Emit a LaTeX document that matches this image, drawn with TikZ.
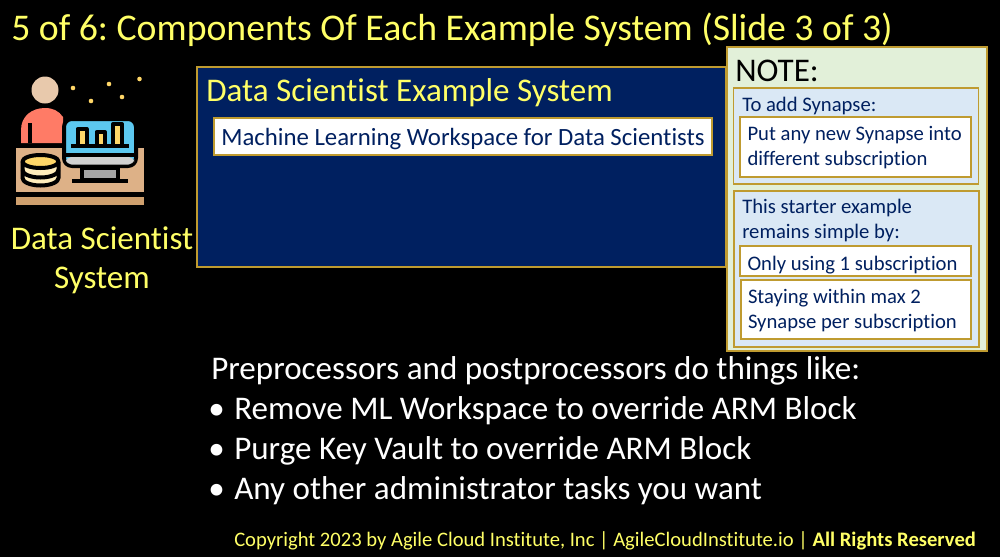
\documentclass[tikz,border=0pt]{standalone}
\usepackage{fontspec}
\setmainfont{Carlito}[Ligatures=CommonOff]
\usepackage{xcolor}
\frenchspacing
\definecolor{slideyellow}{HTML}{FFFF66}
\definecolor{navy}{HTML}{002060}
\definecolor{gold}{HTML}{BF9B30}
\definecolor{notegreen}{HTML}{E2F0D9}
\definecolor{noteblue}{HTML}{DAE8F5}
\definecolor{deskbrown}{HTML}{DDB187}
\definecolor{stripbrown}{HTML}{CFA06E}
\definecolor{shirt}{HTML}{FF7B66}
\definecolor{skin}{HTML}{E8C9AC}
\definecolor{screen}{HTML}{5CC8F0}
\definecolor{barfill}{HTML}{FFD768}
\tikzset{
  panel/.style={draw=gold,line width=0.85pt,inner sep=0pt},
  whitebox/.style={panel,fill=white,text=navy,font=\fontsize{15.5}{18.7}\selectfont,align=flush left},
  slidetext/.style={anchor=base west,inner sep=0pt,text=white,font=\fontsize{24.8}{24.8}\selectfont},
  yellowtext/.style={inner sep=0pt,text=slideyellow},
  headtext/.style={anchor=base west,inner sep=0pt,text=navy,font=\fontsize{15.5}{18.7}\selectfont,align=flush left},
  outline/.style={draw=black,line width=3pt,line join=round}
}
\begin{document}
\begin{tikzpicture}[x=0.75pt,y=-0.75pt]
  \useasboundingbox (0,0) rectangle (1000,557);
  \fill[black] (0,0) rectangle (1000,557);

  % title
  \node (title) at (11,40) [yellowtext,anchor=base west,font=\fontsize{28.3}{28.3}\selectfont] {5 of 6: Components Of Each Example System (Slide 3 of 3)};

  % icon
  \fill[deskbrown] (16,148) rectangle (144,192);
  \fill[stripbrown] (16,196.5) rectangle (144,205);
  \fill[shirt] (21,143) -- (21,130) .. controls (21,116) and (32,108) .. (45,108) .. controls (53,108) and (59,111) .. (63,117) -- (63,143) -- cycle;
  \fill[black] (27.5,123) rectangle (32,143);
  \fill[skin] (45,90) circle (13.5);
  \draw[outline,fill=screen,rounded corners=6] (64,119) rectangle (136,166);
  \fill[black] (64,153) rectangle (136,157);
  \fill[black!18!white,rounded corners=4] (66,157) rectangle (134,164.5);
  \draw[outline,fill=black!35!white] (82,168) rectangle (118,180);
  \draw[outline] (72,180.5) -- (128,180.5);
  \draw[outline,fill=barfill] (77.5,145) -- (77.5,129) -- (86.5,129) -- (86.5,145);
  \draw[outline,fill=barfill] (96.5,145) -- (96.5,132) -- (105,132) -- (105,145);
  \draw[outline,fill=barfill] (113,145) -- (113,124) -- (122,124) -- (122,145);
  \draw[outline] (71,145.5) -- (129,145.5);
  \draw[outline,fill=white!55!barfill] (22.5,162) -- (22.5,178) arc[start angle=180,end angle=0,x radius=18,y radius=7.5] -- (58.5,162) -- cycle;
  \draw[outline] (22.5,170) arc[start angle=180,end angle=0,x radius=18,y radius=7.5];
  \draw[outline,fill=barfill] (40.5,161.5) ellipse (18 and 6.5);
  \foreach \sx/\sy in {73/88,109/84,139.5/79,122/97,91/101}
    \fill[barfill] (\sx,\sy) circle (2.3);

  % icon caption
  \node (cap1) at (102,249) [yellowtext,anchor=base,font=\fontsize{24.8}{24.8}\selectfont] {Data Scientist};
  \node (cap2) at (102,288) [yellowtext,anchor=base,font=\fontsize{24.8}{24.8}\selectfont] {System};

  % system box
  \node (system) at (461.5,167) [panel,fill=navy,minimum width=396.75pt,minimum height=150pt] {};
  \node (systitle) at (206,101) [yellowtext,anchor=base west,font=\fontsize{24.8}{24.8}\selectfont] {Data Scientist Example System};
  \node (workspace) at (463,136.5) [panel,fill=white,text=navy,minimum width=373.5pt,minimum height=27.75pt,text height=17pt,text depth=3.8pt,font=\fontsize{18.6}{18.6}\selectfont] {Machine Learning Workspace for Data Scientists};

  % note
  \node (note) at (857,199) [panel,fill=notegreen,minimum width=195pt,minimum height=228pt] {};
  \node (notetitle) at (735,81) [anchor=base west,inner sep=0pt,text=black,font=\fontsize{24.8}{24.8}\selectfont] {NOTE:};
  \node (addpanel) at (856.25,136) [panel,fill=noteblue,minimum width=184pt,minimum height=72pt] {};
  \node (addhead) at (742,111) [headtext] {To add Synapse:};
  \node (addbox) at (855.5,147) [whitebox,minimum width=173.25pt,minimum height=45pt,text width=162pt,text height=11.75pt] {Put any new Synapse into\\different subscription};
  \node (simplepanel) at (856.5,269) [panel,fill=noteblue,minimum width=183.75pt,minimum height=117pt] {};
  \node (simplehead) at (742,238) [headtext] {This starter example\\remains simple by:};
  \node (onlybox) at (855.5,261) [whitebox,minimum width=173.25pt,minimum height=22.5pt,text width=162pt,text height=17.5pt,text depth=3.2pt] {Only using 1 subscription};
  \node (stayingbox) at (856,309.5) [whitebox,minimum width=172.5pt,minimum height=44.25pt,text width=162pt,text height=12.5pt] {Staying within max 2\\Synapse per subscription};

  % body text
  \node (line1) at (211,379) [slidetext] {Preprocessors and postprocessors do things like:};
  \node (bullet1) at (208,419) [slidetext] {•};
  \node (line2) at (234,419) [slidetext] {Remove ML Workspace to override ARM Block};
  \node (bullet2) at (208,459) [slidetext] {•};
  \node (line3) at (234,459) [slidetext] {Purge Key Vault to override ARM Block};
  \node (bullet3) at (208,499) [slidetext] {•};
  \node (line4) at (234,499) [slidetext] {Any other administrator tasks you want};

  % footer
  \node (footer) at (234,546) [yellowtext,anchor=base west,font=\fontsize{15.45}{15.45}\selectfont] {Copyright 2023 by Agile Cloud Institute, Inc | AgileCloudInstitute.io | \textbf{All Rights Reserved}};
\end{tikzpicture}
\end{document}
